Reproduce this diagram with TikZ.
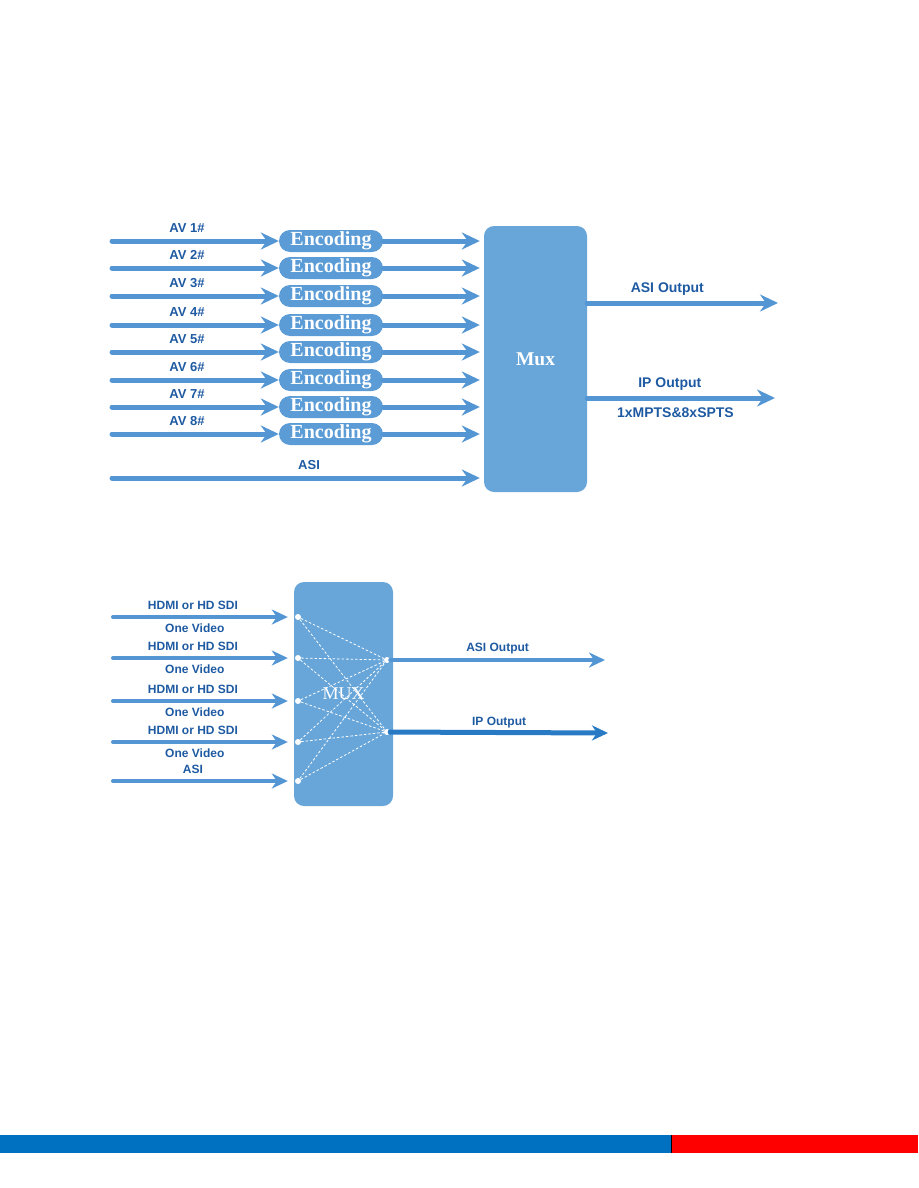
\documentclass[tikz,border=0pt]{standalone}
\usepackage{fontspec}
\setmainfont{Liberation Serif}
\setsansfont{Liberation Sans}
\usetikzlibrary{arrows.meta, positioning, calc}
\definecolor{AB}{RGB}{84,150,212}
\definecolor{IPB}{RGB}{40,122,196}
\definecolor{MF}{RGB}{104,166,218}
\definecolor{EF}{RGB}{92,156,214}
\definecolor{TB}{RGB}{30,90,162}
\definecolor{BB}{RGB}{0,112,192}
\definecolor{BR}{RGB}{255,0,0}

\begin{document}
\begin{tikzpicture}[x=1pt, y=-1pt,
  arr/.style={-{Stealth[length=18pt, width=17pt, inset=6pt]}, line width=5pt,
              draw=AB, line cap=round},
  arrs/.style={-{Stealth[length=16pt, width=15pt, inset=5pt]}, line width=4pt,
               draw=AB, line cap=round},
  enc/.style={fill=EF, rounded corners=11pt, minimum width=104pt,
              minimum height=22pt, inner sep=0pt, text=white,
              font=\bfseries\fontsize{20}{22}\selectfont},
  muxbox/.style={fill=MF, rounded corners=10pt, inner sep=0pt, text=white},
  lbl/.style={inner sep=0pt, text depth=0pt, text=TB,
              font=\sffamily\bfseries\fontsize{13}{15}\selectfont},
  lblb/.style={lbl, font=\sffamily\bfseries\fontsize{14}{16}\selectfont},
  lbls/.style={lbl, font=\sffamily\bfseries\fontsize{12}{14}\selectfont},
  port/.style={circle, fill=white, inner sep=0pt, minimum size=6pt},
  link/.style={draw=white, line width=0.8pt, dash pattern=on 2.5pt off 2pt}
]
\useasboundingbox (0,0) rectangle (918,1188);

% Encoder diagram
\node[muxbox, minimum width=103pt, minimum height=266pt,
      font=\bfseries\fontsize{19.5}{22}\selectfont] (mux) at (535.5,359) {Mux};

\node[enc] (enc1) at (331,241) {Encoding};
\node[enc] (enc2) at (331,268) {Encoding};
\node[enc] (enc3) at (331,296) {Encoding};
\node[enc] (enc4) at (331,325) {Encoding};
\node[enc] (enc5) at (331,352) {Encoding};
\node[enc] (enc6) at (331,380) {Encoding};
\node[enc] (enc7) at (331,407) {Encoding};
\node[enc] (enc8) at (331,434) {Encoding};

\coordinate (av1) at (112,241);
\coordinate (av2) at (112,268);
\coordinate (av3) at (112,296);
\coordinate (av4) at (112,325);
\coordinate (av5) at (112,352);
\coordinate (av6) at (112,380);
\coordinate (av7) at (112,407);
\coordinate (av8) at (112,434);
\coordinate (asiin) at (112,478);

\draw[arr] (av1) -- node[lbl, pos=0.45, above=6pt]{AV 1\#} (enc1);
\draw[arr] (av2) -- node[lbl, pos=0.45, above=6pt]{AV 2\#} (enc2);
\draw[arr] (av3) -- node[lbl, pos=0.45, above=6pt]{AV 3\#} (enc3);
\draw[arr] (av4) -- node[lbl, pos=0.45, above=6pt]{AV 4\#} (enc4);
\draw[arr] (av5) -- node[lbl, pos=0.45, above=6pt]{AV 5\#} (enc5);
\draw[arr] (av6) -- node[lbl, pos=0.45, above=6pt]{AV 6\#} (enc6);
\draw[arr] (av7) -- node[lbl, pos=0.45, above=6pt]{AV 7\#} (enc7);
\draw[arr] (av8) -- node[lbl, pos=0.45, above=6pt]{AV 8\#} (enc8);

\draw[arr, shorten >=4pt] (enc1) -- (enc1 -| mux.west);
\draw[arr, shorten >=4pt] (enc2) -- (enc2 -| mux.west);
\draw[arr, shorten >=4pt] (enc3) -- (enc3 -| mux.west);
\draw[arr, shorten >=4pt] (enc4) -- (enc4 -| mux.west);
\draw[arr, shorten >=4pt] (enc5) -- (enc5 -| mux.west);
\draw[arr, shorten >=4pt] (enc6) -- (enc6 -| mux.west);
\draw[arr, shorten >=4pt] (enc7) -- (enc7 -| mux.west);
\draw[arr, shorten >=4pt] (enc8) -- (enc8 -| mux.west);
\draw[arr, shorten >=4pt] (asiin) -- node[lbl, pos=0.53, above=6pt]{ASI} (asiin -| mux.west);

% Outputs
\coordinate (asiout) at (778,303);
\coordinate (ipout) at (775,398);
\draw[arr] (mux.east |- asiout) -- node[lblb, pos=0.42, above=8pt]{ASI Output} (asiout);
\draw[arr] (mux.east |- ipout) -- node[lblb, pos=0.44, above=8pt]{IP Output}
  node[lblb, pos=0.47, below=7pt]{1xMPTS\&8xSPTS} (ipout);

% HD encoder diagram
\node[muxbox, minimum width=99pt, minimum height=224pt,
      font=\fontsize{18}{20}\selectfont] (mux2) at (343.5,694) {MUX};

\node[port] (p1) at (298,617) {};
\node[port] (p2) at (298,658) {};
\node[port] (p3) at (298,701) {};
\node[port] (p4) at (298,742) {};
\node[port] (p5) at (298,781) {};
\node[port] (q1) at (387,660) {};
\node[port] (q2) at (387,732) {};

\draw[link] (p1) -- (q1); \draw[link] (p1) -- (q2);
\draw[link] (p2) -- (q1); \draw[link] (p2) -- (q2);
\draw[link] (p3) -- (q1); \draw[link] (p3) -- (q2);
\draw[link] (p4) -- (q1); \draw[link] (p4) -- (q2);
\draw[link] (p5) -- (q1); \draw[link] (p5) -- (q2);

\coordinate (hd1) at (113,617);
\coordinate (hd2) at (113,658);
\coordinate (hd3) at (113,701);
\coordinate (hd4) at (113,742);
\coordinate (asi2) at (113,781);

\draw[arrs, shorten >=7pt] (hd1) -- node[lbls, pos=0.44, above=6pt]{HDMI or HD SDI}
  node[lbls, pos=0.45, below=4.7pt]{One Video} (p1);
\draw[arrs, shorten >=7pt] (hd2) -- node[lbls, pos=0.44, above=6pt]{HDMI or HD SDI}
  node[lbls, pos=0.45, below=4.7pt]{One Video} (p2);
\draw[arrs, shorten >=7pt] (hd3) -- node[lbls, pos=0.44, above=6pt]{HDMI or HD SDI}
  node[lbls, pos=0.45, below=4.7pt]{One Video} (p3);
\draw[arrs, shorten >=7pt] (hd4) -- node[lbls, pos=0.44, above=6pt]{HDMI or HD SDI}
  node[lbls, pos=0.45, below=4.7pt]{One Video} (p4);
\draw[arrs, shorten >=7pt] (asi2) -- node[lbls, pos=0.44, above=5.3pt]{ASI} (p5);

\coordinate (asio2) at (605,660);
\coordinate (ipo2) at (608,733);
\draw[arrs] (q1) -- node[lbls, above=6.7pt]{ASI Output} (asio2);
\draw[arrs, draw=IPB, line width=5pt] (q2) -- node[lbls, above=4.7pt]{IP Output} (ipo2);

% Footer bar
\fill[BB] (0,1135) rectangle (671,1153);
\fill[BR] (671,1135) rectangle (918,1153);
\draw[black, line width=0.7pt] (671,1135) -- (671,1153);
\end{tikzpicture}
\end{document}
